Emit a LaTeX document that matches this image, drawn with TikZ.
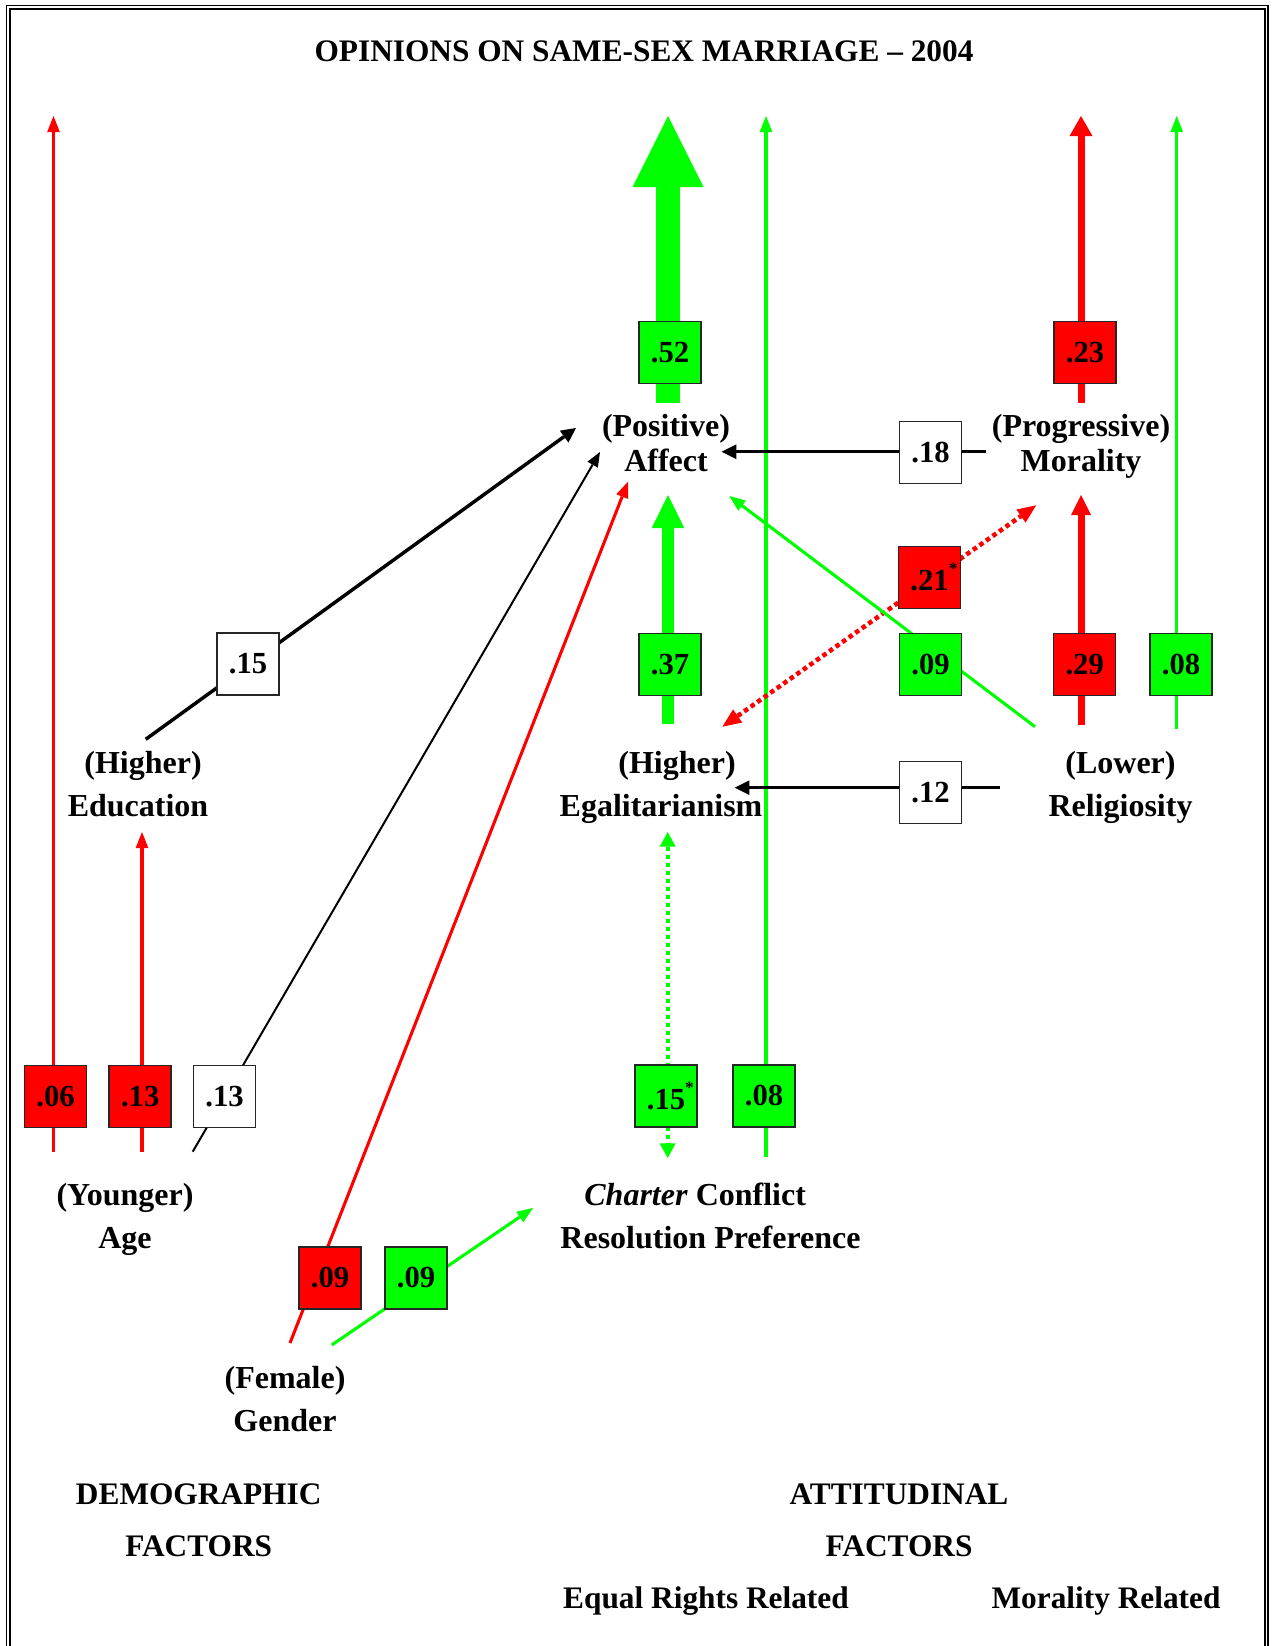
\documentclass[tikz,border=0pt]{standalone}
\usepackage{fontspec}
\setmainfont{Liberation Serif}
\usetikzlibrary{arrows.meta}
\definecolor{rd}{RGB}{255,0,0}
\definecolor{gr}{RGB}{0,255,0}
\begin{document}
\begin{tikzpicture}[x=0.75pt,y=-0.75pt,
  lbl/.style={font=\bfseries\fontsize{24}{32.7}\selectfont, align=center, inner sep=0pt, anchor=base},
  lbltight/.style={lbl, font=\bfseries\fontsize{24}{26.25}\selectfont},
  hdtext/.style={font=\bfseries\fontsize{23.5}{38.8}\selectfont, align=center, inner sep=0pt, anchor=base},
  coef/.style={draw=black!85, line width=1.1pt, minimum size=46.5pt, inner sep=0pt, font=\bfseries\fontsize{23}{23}\selectfont},
  boxr/.style={coef, fill=rd},
  boxg/.style={coef, fill=gr},
  boxw/.style={coef, fill=white},
  arrtip/.style={-{Triangle[length=12pt,width=9.5pt,line width=0pt]}},
  thinred/.style={rd, line width=2.3pt, arrtip},
  thingreen/.style={gr, line width=2.3pt, arrtip},
  blkthick/.style={black, line width=2.6pt, -{Triangle[length=11pt,width=11pt,line width=0pt]}},
  blkthin/.style={black, line width=1.5pt, -{Triangle[length=11pt,width=9pt,line width=0pt]}}
]
\useasboundingbox (0,0) rectangle (1272,1646);
% frame
\draw[line width=0.9pt] (6.5,1660) -- (6.5,5.5) -- (1268,5.5) -- (1268,1660);
\draw[line width=1.8pt] (9.8,1660) -- (9.8,9.2) -- (1265,9.2) -- (1265,1660);

% title
\node[hdtext] (title) at (644,61) {OPINIONS ON SAME-SEX MARRIAGE -- 2004};

% labels (anchor = baseline of the last line)
\node[lbltight] (affect) at (666,471) {(Positive)\\Affect};
\node[lbltight] (moral) at (1081,471) {(Progressive)\\Morality};
\node[lbl] (educ) at (138,816.6) {\hspace*{7.5pt}(Higher)\\Education};
\node[lbl] (egal) at (661,816.6) {\hspace*{24pt}(Higher)\\Egalitarianism};
\node[lbl] (relig) at (1120.5,816.6) {(Lower)\\Religiosity};
\node[lbl] (age) at (125,1248.6) {(Younger)\\Age};
\node[lbl] (charter) at (710.5,1248.6) {\textit{Charter} Conflict\hspace*{23pt}\\Resolution Preference};
\node[lbl] (gender) at (285,1431.6) {(Female)\\Gender};

% bottom headings
\node[hdtext] (demo) at (198.7,1556.7) {DEMOGRAPHIC\\FACTORS};
\node[hdtext] (attit) at (899,1556.7) {ATTITUDINAL\\FACTORS};
\node[hdtext] (eqr) at (706,1608) {Equal Rights Related};
\node[hdtext] (morr) at (1106,1608) {Morality Related};

% connector end points
\coordinate (s06) at (53.5,1152);   \coordinate (t06) at (53.5,116);
\coordinate (s13r) at (142,1152);   \coordinate (t13r) at (142,832);
\coordinate (s13w) at (192.7,1151.7); \coordinate (t13w) at (600,452);
\coordinate (s09r) at (290,1343);   \coordinate (t09r) at (628,481.7);
\coordinate (s09g) at (331.7,1345); \coordinate (t09g) at (533,1208);
\coordinate (s15) at (145.7,739.3); \coordinate (t15) at (576,428);
\coordinate (s52) at (668,403);     \coordinate (t52) at (668,116);
\coordinate (s08b) at (766,1156.7); \coordinate (t08b) at (766,116);
\coordinate (s18) at (985.7,451.7); \coordinate (t18) at (721.6,451.7);
\coordinate (s23) at (1081,403);    \coordinate (t23) at (1081,116);
\coordinate (s08a) at (1176.7,729); \coordinate (t08a) at (1176.7,116);
\coordinate (s37) at (668,724.3);   \coordinate (t37) at (668,495);
\coordinate (e21a) at (722.4,726.7); \coordinate (e21b) at (1036.2,505.3);
\coordinate (s09a) at (1035,726.7); \coordinate (t09a) at (729.3,496);
\coordinate (s29) at (1081,725);    \coordinate (t29) at (1081,495);
\coordinate (s12) at (1000,787.7);  \coordinate (t12) at (734.7,787.7);
\coordinate (e15a) at (667.7,832);  \coordinate (e15b) at (667.7,1158);

% connectors
\draw[thinred] (s06) -- (t06);
\draw[thinred] (s13r) -- (t13r);
\draw[blkthin] (s13w) -- (t13w);
\draw[thinred] (s09r) -- (t09r);
\draw[thingreen] (s09g) -- (t09g);
\draw[blkthick] (s15) -- (t15);
\draw[gr, line width=18pt, -{Triangle[length=53.25pt,width=53.25pt,line width=0pt]}] (s52) -- (t52);
\draw[thingreen] (s08b) -- (t08b);
\draw[blkthick] (s18) -- (t18);
\draw[rd, line width=5.25pt, -{Triangle[length=15pt,width=17.25pt,line width=0pt]}] (s23) -- (t23);
\draw[thingreen] (s08a) -- (t08a);
\draw[gr, line width=8.6pt, -{Triangle[length=24.75pt,width=24.4pt,line width=0pt]}] (s37) -- (t37);
\draw[rd, line width=3.4pt, dash pattern=on 3.4pt off 2.6pt,
  {Triangle[length=14pt,width=12pt,line width=0pt]}-{Triangle[length=14pt,width=12pt,line width=0pt]}] (e21a) -- (e21b);
\draw[thingreen] (s09a) -- (t09a);
\draw[rd, line width=5.25pt, -{Triangle[length=15pt,width=15pt,line width=0pt]}] (s29) -- (t29);
\draw[blkthick] (s12) -- (t12);
\draw[gr, line width=3pt, dash pattern=on 3pt off 3pt,
  {Triangle[length=11pt,width=12pt,line width=0pt]}-{Triangle[length=11pt,width=12pt,line width=0pt]}] (e15a) -- (e15b);

% coefficient boxes
\node[boxg] (b52) at (670,352.5) {.52};
\node[boxr] (b23) at (1085,352.5) {.23};
\node[boxw] (b18) at (930.5,452.5) {.18};
\node[boxr] (b21) at (929.6,577.3) {.21\rlap{\raisebox{12pt}{\fontsize{13}{13}\selectfont *}}};
\node[boxw] (b15e) at (248,664) {.15};
\node[boxg] (b37) at (670,664.5) {.37};
\node[boxg] (b09a) at (930.5,664.5) {.09};
\node[boxr] (b29) at (1084.7,664.5) {.29};
\node[boxg] (b08a) at (1181,664.5) {.08};
\node[boxw] (b12) at (930.5,792.5) {.12};
\node[boxr] (b06) at (55.5,1096.7) {.06};
\node[boxr] (b13r) at (140.2,1096.7) {.13};
\node[boxw] (b13w) at (224.5,1096.7) {.13};
\node[boxg] (b15s) at (666,1096) {.15\rlap{\raisebox{12pt}{\fontsize{13}{13}\selectfont *}}};
\node[boxg] (b08b) at (764,1096) {.08};
\node[boxr] (b09r) at (330,1278) {.09};
\node[boxg] (b09g) at (416,1278) {.09};
\end{tikzpicture}
\end{document}
